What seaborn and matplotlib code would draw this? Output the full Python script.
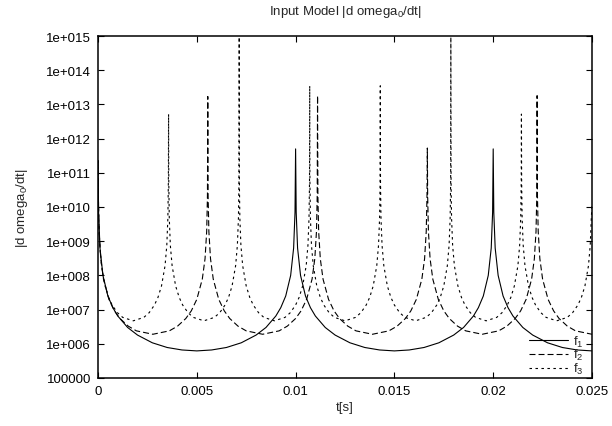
import matplotlib
matplotlib.use("Agg")
import matplotlib.pyplot as plt
import numpy as np
import pandas as pd
import seaborn as sns
from matplotlib.ticker import FixedLocator, FixedFormatter, NullLocator

# ---------------- data ----------------
f1_t = [0, 0.00003, 0.0001, 0.00025, 0.0005, 0.00075, 0.001, 0.0015, 0.002, 0.00275, 0.0035, 0.00425,
        0.005, 0.00575, 0.0065, 0.00725, 0.008, 0.0085, 0.009, 0.00925, 0.0095, 0.00975, 0.0099, 0.00997,
        0.01, 0.01003, 0.0101, 0.01025, 0.0105, 0.01075, 0.011, 0.0115, 0.012, 0.01275, 0.0135, 0.01425,
        0.015, 0.01575, 0.0165, 0.01725, 0.018, 0.0185, 0.019, 0.01925, 0.0195, 0.01975, 0.0199, 0.01997,
        0.02, 0.02003, 0.0201, 0.02025, 0.0205, 0.02075, 0.021, 0.0215, 0.022, 0.02275, 0.0235, 0.02425, 0.025]
f1_y = [2.3e11, 7.0e9, 6.3e8, 1.0e8, 2.5e7, 1.14e7, 6.5e6, 3.0e6, 1.8e6, 1.07e6, 7.8e5, 6.6e5,
        6.2e5, 6.6e5, 7.8e5, 1.07e6, 1.8e6, 3.0e6, 6.5e6, 1.14e7, 2.5e7, 1.0e8, 6.3e8, 7.0e9,
        5.0e11, 7.0e9, 6.3e8, 1.0e8, 2.5e7, 1.14e7, 6.5e6, 3.0e6, 1.8e6, 1.07e6, 7.8e5, 6.6e5,
        6.2e5, 6.6e5, 7.8e5, 1.07e6, 1.8e6, 3.0e6, 6.5e6, 1.14e7, 2.5e7, 1.0e8, 6.3e8, 7.0e9,
        5.0e11, 7.0e9, 6.3e8, 1.0e8, 2.5e7, 1.14e7, 6.5e6, 3.0e6, 1.8e6, 1.07e6, 7.8e5, 6.6e5, 6.2e5]

f2_t = [0, 0.0000167, 0.0000556, 0.000139, 0.000278, 0.000556, 0.000833, 0.001111, 0.001528, 0.001944,
        0.002778, 0.003611, 0.004028, 0.004444, 0.004722, 0.005, 0.005278, 0.005417, 0.0055, 0.005539,
        0.005556, 0.005572, 0.005611, 0.005694, 0.005833, 0.006111, 0.006389, 0.006667, 0.007083, 0.0075,
        0.008333, 0.009167, 0.009583, 0.01, 0.010278, 0.010556, 0.010833, 0.010972, 0.011056, 0.011094,
        0.011111, 0.011128, 0.011167, 0.01125, 0.011389, 0.011667, 0.011944, 0.012222, 0.012639, 0.013056,
        0.013889, 0.014722, 0.015139, 0.015556, 0.015833, 0.016111, 0.016389, 0.016528, 0.016611, 0.01665,
        0.016667, 0.016683, 0.016722, 0.016806, 0.016944, 0.017222, 0.0175, 0.017778, 0.018194, 0.018611,
        0.019444, 0.020278, 0.020694, 0.021111, 0.021389, 0.021667, 0.021944, 0.022083, 0.022167, 0.022206,
        0.022222, 0.022239, 0.022278, 0.022361, 0.0225, 0.022778, 0.023056, 0.023333, 0.02375, 0.024167, 0.025]
f2_y = [2.3e11, 2.14e10, 1.92e9, 3.08e8, 7.77e7, 1.99e7, 9.2e6, 5.49e6, 3.29e6, 2.39e6,
        1.9e6, 2.39e6, 3.29e6, 5.49e6, 9.2e6, 1.99e7, 7.77e7, 3.08e8, 1.92e9, 2.14e10,
        1.7e13, 2.14e10, 1.92e9, 3.08e8, 7.77e7, 1.99e7, 9.2e6, 5.49e6, 3.29e6, 2.39e6,
        1.9e6, 2.39e6, 3.29e6, 5.49e6, 9.2e6, 1.99e7, 7.77e7, 3.08e8, 1.92e9, 2.14e10,
        1.8e13, 2.14e10, 1.92e9, 3.08e8, 7.77e7, 1.99e7, 9.2e6, 5.49e6, 3.29e6, 2.39e6,
        1.9e6, 2.39e6, 3.29e6, 5.49e6, 9.2e6, 1.99e7, 7.77e7, 3.08e8, 1.92e9, 2.14e10,
        5.3e11, 2.14e10, 1.92e9, 3.08e8, 7.77e7, 1.99e7, 9.2e6, 5.49e6, 3.29e6, 2.39e6,
        1.9e6, 2.39e6, 3.29e6, 5.49e6, 9.2e6, 1.99e7, 7.77e7, 3.08e8, 1.92e9, 2.14e10,
        1.8e13, 2.14e10, 1.92e9, 3.08e8, 7.77e7, 1.99e7, 9.2e6, 5.49e6, 3.29e6, 2.39e6, 1.9e6]

f3_t = [0, 0.0000107, 0.0000357, 0.0000893, 0.000179, 0.000357, 0.000536, 0.000714, 0.000982, 0.00125,
        0.001786, 0.002321, 0.00259, 0.002857, 0.003036, 0.003214, 0.003393, 0.003482, 0.003536, 0.003561,
        0.0035714, 0.0035821, 0.0036071, 0.0036607, 0.0037504, 0.0039284, 0.0041074, 0.0042854, 0.0045534, 0.0048214,
        0.0053574, 0.0058924, 0.0061614, 0.0064284, 0.0066074, 0.0067854, 0.0069644, 0.0070534, 0.0071074, 0.0071324,
        0.0071429, 0.0071536, 0.0071786, 0.0072322, 0.0073219, 0.0074999, 0.0076789, 0.0078569, 0.0081249, 0.0083929,
        0.0089289, 0.0094639, 0.0097329, 0.0099999, 0.0101789, 0.0103569, 0.0105359, 0.0106249, 0.0106789, 0.0107039,
        0.0107143, 0.010725, 0.01075, 0.0108036, 0.0108933, 0.0110713, 0.0112503, 0.0114283, 0.0116963, 0.0119643,
        0.0125003, 0.0130353, 0.0133043, 0.0135713, 0.0137503, 0.0139283, 0.0141073, 0.0141963, 0.0142503, 0.0142753,
        0.0142857, 0.0142964, 0.0143214, 0.014375, 0.0144647, 0.0146427, 0.0148217, 0.0149997, 0.0152677, 0.0155357,
        0.0160717, 0.0166067, 0.0168757, 0.0171427, 0.0173217, 0.0174997, 0.0176787, 0.0177677, 0.0178217, 0.0178467,
        0.0178571, 0.0178678, 0.0178928, 0.0179464, 0.0180361, 0.0182141, 0.0183931, 0.0185711, 0.0188391, 0.0191071,
        0.0196431, 0.0201781, 0.0204471, 0.0207141, 0.0208931, 0.0210711, 0.0212501, 0.0213391, 0.0213931, 0.0214181,
        0.0214286, 0.0214393, 0.0214643, 0.0215179, 0.0216076, 0.0217856, 0.0219646, 0.0221426, 0.0224106, 0.0226786,
        0.0232146, 0.0237496, 0.0240186, 0.0242856, 0.0244646, 0.0246426, 0.0248216, 0.0249106, 0.0249646, 0.025]
f3_y = [2.3e11, 5.29e10, 4.76e9, 7.61e8, 1.92e8, 4.92e7, 2.28e7, 1.36e7, 8.13e6, 5.92e6,
        4.7e6, 5.92e6, 8.13e6, 1.36e7, 2.28e7, 4.92e7, 1.92e8, 7.61e8, 4.76e9, 5.29e10,
        5.2e12, 5.29e10, 4.76e9, 7.61e8, 1.92e8, 4.92e7, 2.28e7, 1.36e7, 8.13e6, 5.92e6,
        4.7e6, 5.92e6, 8.13e6, 1.36e7, 2.28e7, 4.92e7, 1.92e8, 7.61e8, 4.76e9, 5.29e10,
        9.3e14, 5.29e10, 4.76e9, 7.61e8, 1.92e8, 4.92e7, 2.28e7, 1.36e7, 8.13e6, 5.92e6,
        4.7e6, 5.92e6, 8.13e6, 1.36e7, 2.28e7, 4.92e7, 1.92e8, 7.61e8, 4.76e9, 5.29e10,
        3.5e13, 5.29e10, 4.76e9, 7.61e8, 1.92e8, 4.92e7, 2.28e7, 1.36e7, 8.13e6, 5.92e6,
        4.7e6, 5.92e6, 8.13e6, 1.36e7, 2.28e7, 4.92e7, 1.92e8, 7.61e8, 4.76e9, 5.29e10,
        3.5e13, 5.29e10, 4.76e9, 7.61e8, 1.92e8, 4.92e7, 2.28e7, 1.36e7, 8.13e6, 5.92e6,
        4.7e6, 5.92e6, 8.13e6, 1.36e7, 2.28e7, 4.92e7, 1.92e8, 7.61e8, 4.76e9, 5.29e10,
        9.3e14, 5.29e10, 4.76e9, 7.61e8, 1.92e8, 4.92e7, 2.28e7, 1.36e7, 8.13e6, 5.92e6,
        4.7e6, 5.92e6, 8.13e6, 1.36e7, 2.28e7, 4.92e7, 1.92e8, 7.61e8, 4.76e9, 5.29e10,
        5.2e12, 5.29e10, 4.76e9, 7.61e8, 1.92e8, 4.92e7, 2.28e7, 1.36e7, 8.13e6, 5.92e6,
        4.7e6, 5.92e6, 8.13e6, 1.36e7, 2.28e7, 4.92e7, 1.92e8, 7.61e8, 4.76e9, 1.1e10]

series_names = ["f1", "f2", "f3"]
series_labels = ["f$_1$", "f$_2$", "f$_3$"]
x_ticks = [0, 0.005, 0.01, 0.015, 0.02, 0.025]
x_tick_labels = ["0", "0.005", "0.01", "0.015", "0.02", "0.025"]
y_ticks = [1e5, 1e6, 1e7, 1e8, 1e9, 1e10, 1e11, 1e12, 1e13, 1e14, 1e15]
y_tick_labels = ["100000", "1e+006", "1e+007", "1e+008", "1e+009", "1e+010",
                 "1e+011", "1e+012", "1e+013", "1e+014", "1e+015"]
title_text = "Input Model |d omega$_0$/dt|"
y_label = "|d omega$_0$/dt|"
x_label = "t[s]"

# ---------------- style ----------------
sns.set_style("ticks")
plt.rcParams["font.family"] = ["Liberation Sans", "DejaVu Sans"]
plt.rcParams["mathtext.fontset"] = "custom"
plt.rcParams["mathtext.rm"] = "Liberation Sans"
plt.rcParams["mathtext.it"] = "Liberation Sans:italic"
plt.rcParams["mathtext.bf"] = "Liberation Sans:bold"
plt.rcParams["lines.scale_dashes"] = False

df = pd.concat([
    pd.DataFrame({"t": f1_t, "v": f1_y, "series": "f1"}),
    pd.DataFrame({"t": f2_t, "v": f2_y, "series": "f2"}),
    pd.DataFrame({"t": f3_t, "v": f3_y, "series": "f3"}),
], ignore_index=True)

fig = plt.figure(figsize=(6.12, 4.27), dpi=100)
ax = fig.add_axes([98 / 612, 1 - 379 / 427, (592 - 98) / 612, (379 - 37) / 427])

sns.lineplot(data=df, x="t", y="v", style="series", style_order=series_names,
             dashes={"f1": "", "f2": (4.3, 2.2), "f3": (1.8, 2.5)},
             color="black", linewidth=0.8, estimator=None, sort=False,
             legend=False, ax=ax)

ax.set_yscale("log")
ax.set_xlim(0, 0.025)
ax.set_ylim(1e5, 1e15)
ax.xaxis.set_major_locator(FixedLocator(x_ticks))
ax.xaxis.set_major_formatter(FixedFormatter(x_tick_labels))
ax.yaxis.set_major_locator(FixedLocator(y_ticks))
ax.yaxis.set_major_formatter(FixedFormatter(y_tick_labels))
ax.yaxis.set_minor_locator(NullLocator())
ax.xaxis.set_minor_locator(NullLocator())
ax.tick_params(direction="in", top=True, right=True, length=4, width=0.8,
               labelsize=9.5, pad=5, colors="black")
for s in ax.spines.values():
    s.set_linewidth(1.1)
    s.set_color("black")

ax.set_xlabel(x_label, fontsize=9.5, labelpad=3)
ax.set_ylabel(y_label, fontsize=9.5, labelpad=12)
fig.text((98 + 592) / 2 / 612, 1 - 12 / 427, title_text, ha="center", va="center", fontsize=9.5)

handles = ax.get_lines()[:3]
ax.legend(handles, series_labels, loc="lower right", bbox_to_anchor=(1.0, -0.018),
          frameon=False, fontsize=9.5, handlelength=2.9, handletextpad=0.45,
          labelspacing=-0.1, borderaxespad=0.1, borderpad=0.5)

fig.savefig("out.png", dpi=100)
